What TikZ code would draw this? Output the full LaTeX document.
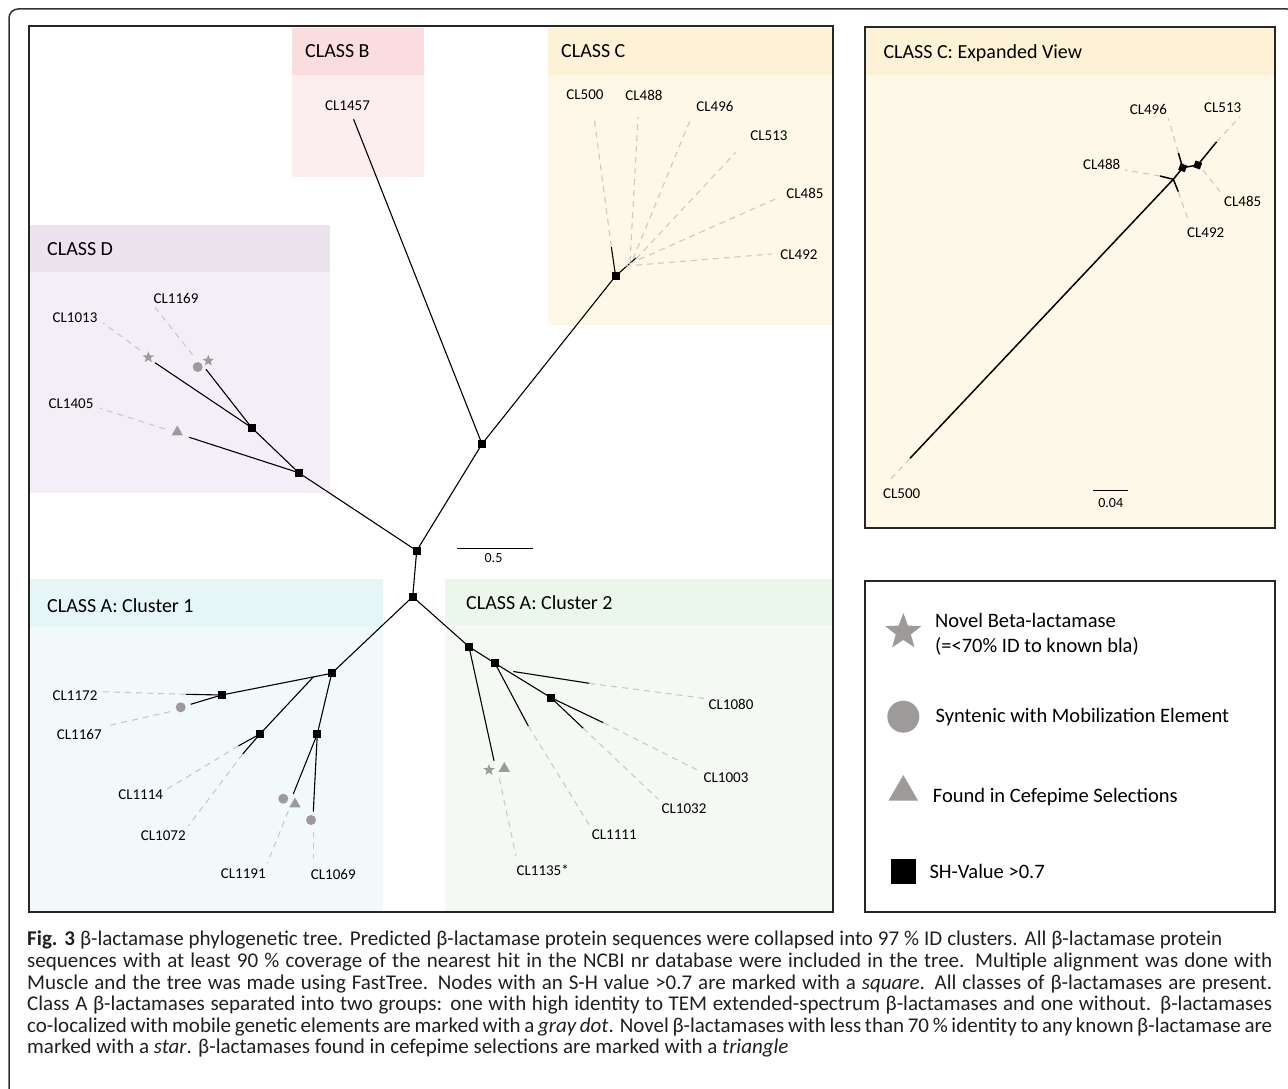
\documentclass[tikz,border=0pt]{standalone}
\usepackage{fontspec}
\setmainfont{Carlito}
\usetikzlibrary{shapes.geometric}
\definecolor{pinkH}{HTML}{FBDDE0}
\definecolor{pinkB}{HTML}{FCEEEF}
\definecolor{yelH}{HTML}{FDF1D6}
\definecolor{yelB}{HTML}{FEF8E9}
\definecolor{purH}{HTML}{EDE3EF}
\definecolor{purB}{HTML}{F4EFF6}
\definecolor{cyaH}{HTML}{E6F6F6}
\definecolor{cyaB}{HTML}{F1F9FA}
\definecolor{grnH}{HTML}{ECF7EC}
\definecolor{grnB}{HTML}{F4FAF3}
\definecolor{mkgray}{HTML}{9E9A99}
\definecolor{dashgray}{HTML}{C9C9C9}
\definecolor{capcol}{HTML}{231F20}
\tikzset{
  br/.style={line width=1.1pt, black},
  brx/.style={line width=1.5pt, black},
  dl/.style={line width=1.1pt, dashgray, dash pattern=on 6pt off 5pt},
  sq/.style={fill=black, rectangle, minimum size=8pt, inner sep=0pt},
  mk/.style={fill=mkgray, draw=none, inner sep=0pt},
  starm/.style={mk, star, star points=5, star point ratio=2.4, minimum size=12pt},
  dotm/.style={mk, circle, minimum size=10pt},
  trim/.style={mk, regular polygon, regular polygon sides=3, minimum size=13pt},
  lab/.style={font=\fontsize{15}{18}\selectfont, inner sep=0pt},
  hdr/.style={font=\fontsize{20}{24}\selectfont, inner sep=0pt, anchor=west},
  leg/.style={font=\fontsize{20.5}{25}\selectfont, inner sep=0pt, anchor=west, align=left},
  capl/.style={font=\fontsize{21}{24}\selectfont, inner sep=0pt, anchor=base west, text=capcol},
  frame/.style={line width=1.3pt, draw=black!85}
}
\begin{document}
\begin{tikzpicture}[x=1pt,y=-1pt]
\useasboundingbox (0,0) rectangle (1288,1089);
\fill[white] (0,0) rectangle (1288,1089);
% outer frame
\draw[line width=1.5pt, draw=black!80, rounded corners=9pt] (9,9) rectangle (1296,1110);

% ---- main panel boxes
\fill[pinkH] (292,28) rectangle (424,75);
\fill[pinkB] (292,75) rectangle (424,177);
\fill[yelH] (548,28) rectangle (832,75);
\fill[yelB] (548,75) rectangle (832,325);
\fill[purH] (30,225) rectangle (330,272);
\fill[purB] (30,272) rectangle (330,493);
\fill[cyaH] (30,579) rectangle (383,627);
\fill[cyaB] (30,627) rectangle (383,911);
\fill[grnH] (445,579) rectangle (832,625);
\fill[grnB] (445,625) rectangle (832,911);
\draw[frame] (29,26) rectangle (833,912);

\node[hdr] (hB) at (305,51) {CLASS B};
\node[hdr] (hC) at (561,51) {CLASS C};
\node[hdr] (hD) at (47,249) {CLASS D};
\node[hdr] (hA1) at (47,606) {CLASS A: Cluster 1};
\node[hdr] (hA2) at (466,603) {CLASS A: Cluster 2};

% ---- central nodes
\node[sq] (cA) at (412.7,596.7) {};
\node[sq] (cM) at (416.7,550.7) {};
\node[sq] (cBC) at (482,444) {};
\node[sq] (cC) at (615.6,276) {};
\coordinate (tB) at (353.6,119.3);
\draw[br] (cA.center) -- (cM.center);
\draw[br] (cM.center) -- (cBC.center);
\draw[br] (cBC.center) -- (tB);
\draw[br] (cBC.center) -- (cC.center);
\node[lab] (l1457) at (347.5,106) {CL1457};

% scale bar
\coordinate (sb1) at (457,548);
\coordinate (sb2) at (533,548);
\draw[line width=1pt] (sb1) -- (sb2);
\node[lab, font=\fontsize{14}{16}\selectfont] (sbl) at (493.5,558) {0.5};

% ---- class C
\coordinate (c500a) at (611.3,246.7);
\coordinate (cCt) at (636,258);
\draw[br] (cC.center) -- (c500a);
\draw[br] (cC.center) -- (cCt);
\coordinate (c500b) at (594,117);
\coordinate (c488a) at (630,262);   \coordinate (c488b) at (638,117);
\coordinate (c496a) at (633,259);   \coordinate (c496b) at (691,118);
\coordinate (c513a) at (636,259);   \coordinate (c513b) at (736,152);
\coordinate (c485a) at (629,264);   \coordinate (c485b) at (780,197);
\coordinate (c492a) at (625,266);   \coordinate (c492b) at (772,254);
\draw[dl] (c500a) -- (c500b);
\draw[dl] (c488a) -- (c488b);
\draw[dl] (c496a) -- (c496b);
\draw[dl] (c513a) -- (c513b);
\draw[dl] (c485a) -- (c485b);
\draw[dl] (c492a) -- (c492b);
\node[lab] (l500) at (585,95) {CL500};
\node[lab] (l488) at (644,95) {CL488};
\node[lab] (l496) at (715,106) {CL496};
\node[lab] (l513) at (769,136) {CL513};
\node[lab] (l485) at (805,193) {CL485};
\node[lab] (l492) at (799,255) {CL492};

% ---- class D
\node[sq] (d2) at (298.7,472.7) {};
\node[sq] (d1) at (251.7,427.7) {};
\draw[br] (cM.center) -- (d2.center);
\draw[br] (d2.center) -- (d1.center);
\coordinate (d1013a) at (155,362.7);
\coordinate (d1169a) at (206,369.3);
\coordinate (d1405a) at (189.3,437.3);
\draw[br] (d1.center) -- (d1013a);
\draw[br] (d1.center) -- (d1169a);
\draw[br] (d2.center) -- (d1405a);
\node[starm] (s1013) at (148.3,357.3) {};
\node[dotm] (o1169) at (197.7,367) {};
\node[starm] (s1169) at (208.3,360.7) {};
\node[trim] (t1405) at (177.3,432) {};
\coordinate (d1013b) at (140,350);   \coordinate (d1013c) at (103,323);
\coordinate (d1169b) at (192.7,355); \coordinate (d1169c) at (155,307.3);
\coordinate (d1405b) at (165,429);   \coordinate (d1405c) at (100,408.3);
\draw[dl] (d1013b) -- (d1013c);
\draw[dl] (d1169b) -- (d1169c);
\draw[dl] (d1405b) -- (d1405c);
\node[lab] (l1013) at (75,318) {CL1013};
\node[lab] (l1169) at (176,298.3) {CL1169};
\node[lab] (l1405) at (71,403.3) {CL1405};

% ---- class A cluster 1
\node[sq] (a1) at (331.7,673.3) {};
\node[sq] (a2) at (221.7,695) {};
\node[sq] (a3) at (260,734) {};
\node[sq] (a4) at (317.3,734) {};
\coordinate (a1s) at (313.3,677);
\draw[br] (cA.center) -- (a1.center);
\draw[br] (a1.center) -- (a2.center);
\draw[br] (a1s) -- (a3.center);
\draw[br] (a1.center) -- (a4.center);
\coordinate (e1172) at (186,694.3);
\coordinate (e1167) at (190.7,704.3);
\draw[br] (a2.center) -- (e1172);
\draw[br] (a2.center) -- (e1167);
\node[dotm] (o1167) at (180.7,707.3) {};
\coordinate (f1172) at (101.7,691.7);
\coordinate (g1167) at (170,711.7); \coordinate (f1167) at (106.7,726);
\draw[dl] (e1172) -- (f1172);
\draw[dl] (g1167) -- (f1167);
\node[lab] (l1172) at (75,696) {CL1172};
\node[lab] (l1167) at (79.3,734) {CL1167};
\coordinate (e1114) at (238.3,746);
\coordinate (e1072) at (242.7,754);
\draw[br] (a3.center) -- (e1114);
\draw[br] (a3.center) -- (e1072);
\coordinate (f1114) at (166.7,789.3);
\coordinate (f1072) at (188.3,826);
\draw[dl] (e1114) -- (f1114);
\draw[dl] (e1072) -- (f1072);
\node[lab] (l1114) at (140.7,795) {CL1114};
\node[lab] (l1072) at (163.3,836) {CL1072};
\coordinate (e1191) at (293.3,794);
\coordinate (e1069) at (313.3,811.7);
\draw[br] (a4.center) -- (e1191);
\draw[br] (a4.center) -- (e1069);
\node[dotm] (o1191) at (283.3,798.7) {};
\node[trim] (t1191) at (295,804) {};
\node[dotm] (o1069) at (311,820) {};
\coordinate (g1191) at (288.3,811); \coordinate (f1191) at (267.3,863.3);
\coordinate (g1069) at (313.3,831.7); \coordinate (f1069) at (313.3,858.3);
\draw[dl] (g1191) -- (f1191);
\draw[dl] (g1069) -- (f1069);
\node[lab] (l1191) at (243.3,873.3) {CL1191};
\node[lab] (l1069) at (333.3,874) {CL1069};

% ---- class A cluster 2
\node[sq] (b1) at (469,646.7) {};
\node[sq] (b2) at (495,663.3) {};
\node[sq] (b3) at (551,697.7) {};
\coordinate (b2s) at (513.3,671.5);
\draw[br] (cA.center) -- (b1.center);
\draw[br] (b1.center) -- (b2.center);
\draw[br] (b2.center) -- (b3.center);
\coordinate (e1135) at (494,760.7);
\coordinate (e1111) at (528.3,726);
\coordinate (e1080) at (589.3,683.3);
\coordinate (e1003) at (603.3,722.7);
\coordinate (e1032) at (583.3,728.3);
\draw[br] (b1.center) -- (e1135);
\draw[br] (b2.center) -- (e1111);
\draw[br] (b2s) -- (e1080);
\draw[br] (b3.center) -- (e1003);
\draw[br] (b3.center) -- (e1032);
\node[starm] (s1135) at (489,770) {};
\node[trim] (t1135) at (504.3,768.5) {};
\coordinate (g1135) at (499.3,778.3); \coordinate (f1135) at (516,856);
\coordinate (f1111) at (589.3,825);
\coordinate (f1080) at (704,698.3);
\coordinate (f1003) at (699.3,771);
\coordinate (f1032) at (658.3,799.3);
\draw[dl] (g1135) -- (f1135);
\draw[dl] (e1111) -- (f1111);
\draw[dl] (e1080) -- (f1080);
\draw[dl] (e1003) -- (f1003);
\draw[dl] (e1032) -- (f1032);
\node[lab] (l1135) at (542.7,870) {CL1135*};
\node[lab] (l1111) at (614.3,835) {CL1111};
\node[lab] (l1080) at (731,704.3) {CL1080};
\node[lab] (l1003) at (726,777.3) {CL1003};
\node[lab] (l1032) at (684,809) {CL1032};

% ---- expanded view
\fill[yelH] (865,27) rectangle (1275,75);
\fill[yelB] (865,75) rectangle (1275,528);
\draw[frame] (865,27) rectangle (1275,528);
\node[hdr] (hE) at (883.3,53.3) {CLASS C: Expanded View};
\coordinate (x500a) at (910,458.3);
\coordinate (xF) at (1173.3,179.3);
\node[sq, minimum size=7pt, rotate=-20] (xs1) at (1182.7,167.7) {};
\node[sq, minimum size=7pt, rotate=-20] (xs2) at (1197.7,165) {};
\draw[brx] (x500a) -- (xF);
\draw[brx] (xF) -- (xs1.center);
\draw[brx] (xs1.center) -- (xs2.center);
\coordinate (x488a) at (1160,176);
\coordinate (x492a) at (1178.3,191.7);
\coordinate (x496a) at (1178.3,152.7);
\coordinate (x513a) at (1216.7,141.7);
\coordinate (x485a) at (1203,170);
\draw[brx] (xF) -- (x488a);
\draw[brx] (xF) -- (x492a);
\draw[brx] (xs1.center) -- (x496a);
\draw[brx] (xs2.center) -- (x513a);
\coordinate (x500b) at (888.3,481.7);
\coordinate (x488b) at (1125,170);
\coordinate (x492b) at (1188.3,220);
\coordinate (x496b) at (1168.3,118.3);
\coordinate (x513b) at (1240,116.7);
\coordinate (x485b) at (1220,191.7);
\draw[dl] (x500a) -- (x500b);
\draw[dl] (x488a) -- (x488b);
\draw[dl] (x492a) -- (x492b);
\draw[dl] (x496a) -- (x496b);
\draw[dl] (x513a) -- (x513b);
\draw[dl] (x485a) -- (x485b);
\node[lab] (xl500) at (901.7,493.3) {CL500};
\node[lab] (xl488) at (1101.7,164) {CL488};
\node[lab] (xl492) at (1205.7,232.3) {CL492};
\node[lab] (xl496) at (1148.3,109.3) {CL496};
\node[lab] (xl513) at (1222.7,107.7) {CL513};
\node[lab] (xl485) at (1242.7,201) {CL485};
\coordinate (xsb1) at (1093.3,490);
\coordinate (xsb2) at (1127.7,490);
\draw[line width=1pt] (xsb1) -- (xsb2);
\node[lab, font=\fontsize{14}{16}\selectfont] (xsbl) at (1110.7,502.7) {0.04};

% ---- legend
\draw[frame] (865,581) rectangle (1275,912);
\node[mk, star, star points=5, star point ratio=2.4, minimum size=38pt] (gS) at (903.3,632) {};
\node[mk, circle, minimum size=32pt] (gO) at (903.3,716.7) {};
\node[mk, regular polygon, regular polygon sides=3, minimum size=34pt] (gT) at (903.3,792) {};
\node[sq, minimum size=25pt] (gQ) at (903.3,871.7) {};
\node[leg] (tS) at (935,634) {Novel Beta-lactamase\\(=<70\% ID to known bla)};
\node[leg] (tO) at (935.5,716.7) {Syntenic with Mobilization Element};
\node[leg] (tT) at (932.7,796.7) {Found in Cefepime Selections};
\node[leg] (tQ) at (929.3,871.7) {SH-Value >0.7};

% ---- caption
\node[capl] (cap1) at (27,945.7) {\makebox[1195pt][s]{\textbf{Fig. 3} β-lactamase phylogenetic tree. Predicted β-lactamase protein sequences were collapsed into 97 \% ID clusters. All β-lactamase protein}};
\node[capl] (cap2) at (27,967.3) {\makebox[1245pt][s]{sequences with at least 90 \% coverage of the nearest hit in the NCBI nr database were included in the tree. Multiple alignment was done with}};
\node[capl] (cap3) at (27,989) {\makebox[1245pt][s]{Muscle and the tree was made using FastTree. Nodes with an S-H value >0.7 are marked with a \textit{square}. All classes of β-lactamases are present.}};
\node[capl] (cap4) at (27,1010.5) {\makebox[1245pt][s]{Class A β-lactamases separated into two groups: one with high identity to TEM extended-spectrum β-lactamases and one without. β-lactamases}};
\node[capl] (cap5) at (27,1032) {\makebox[1245pt][s]{co-localized with mobile genetic elements are marked with a \textit{gray dot}. Novel β-lactamases with less than 70 \% identity to any known β-lactamase are}};
\node[capl] (cap6) at (27,1053.7) {marked with a \textit{star}. β-lactamases found in cefepime selections are marked with a \textit{triangle}};
\end{tikzpicture}
\end{document}
